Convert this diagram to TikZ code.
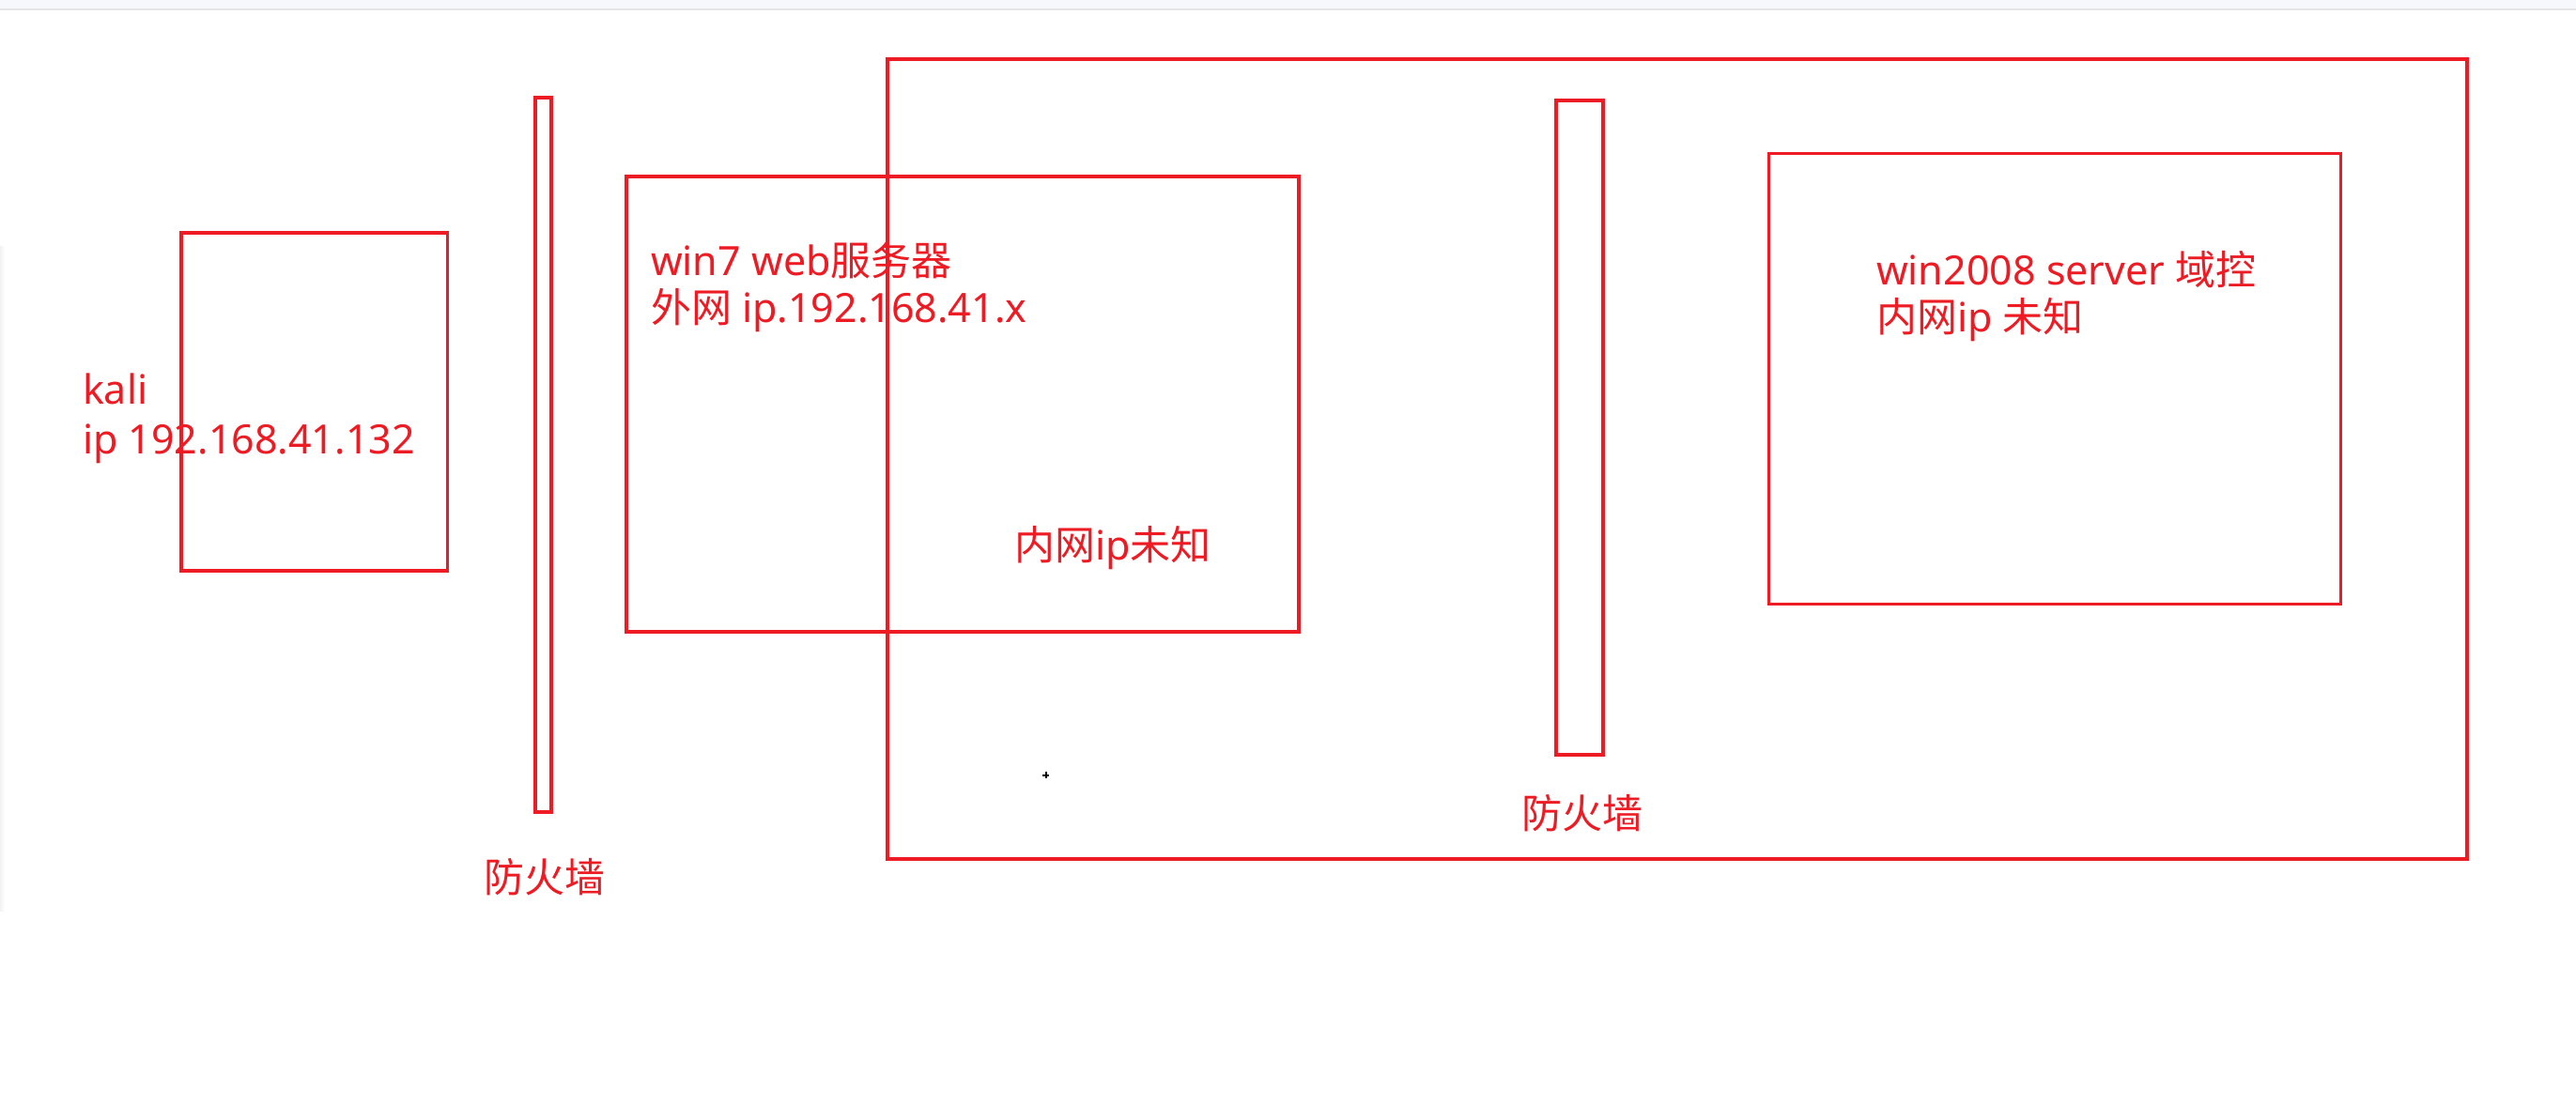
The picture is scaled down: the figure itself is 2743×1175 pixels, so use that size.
\documentclass[tikz,border=0pt]{standalone}
\usepackage{fontspec}
\setmainfont{Noto Sans}
\newfontfamily\cjk{Noto Sans CJK SC}
\definecolor{pen}{RGB}{237,28,36}
\tikzset{
  box/.style={draw=pen, line width=3.8pt, inner sep=0pt, outer sep=0pt, anchor=north west},
  lbl/.style={text=pen, font=\fontsize{43}{53}\selectfont, inner sep=0pt, outer sep=0pt},
}
\begin{document}
\begin{tikzpicture}[x=1pt,y=-1pt]
\path[fill=white] (0,0) rectangle (2743,1175);
\useasboundingbox (0,0) rectangle (2743,1175);
% top window strip
\path[fill={rgb,255:red,247;green,248;blue,252}] (0,0) rectangle (2743,9);
\path[fill={rgb,255:red,229;green,229;blue,229}] (0,9) rectangle (2743,11);
\path[left color=black!5, right color=white] (0,262) rectangle (5,970);
% boxes
\node[box, minimum width=283.5pt, minimum height=360pt] (kali) at (193,248) {};
\node[box, minimum width=17.6pt, minimum height=761pt] (fw1) at (569.7,103.7) {};
\node[box, minimum width=716.6pt, minimum height=485pt] (win7) at (666.7,187.7) {};
\node[box, minimum width=1682pt, minimum height=852pt] (lan) at (944.7,62.7) {};
\node[box, minimum width=50.6pt, minimum height=697pt] (fw2) at (1656.7,106.7) {};
\node[box, minimum width=609pt, minimum height=480pt] (dc) at (1883.5,163.5) {};
% texts
\node[lbl, anchor=base west] (t1) at (88,430) {kali};
\node[lbl, anchor=base west] (t2) at (88,483) {ip 192.168.41.132};
\node[lbl, anchor=base west] (t3) at (693,293) {win7 web{\cjk 服务器}};
\node[lbl, anchor=base west] (t4) at (693,343) {{\cjk 外网} ip.192.168.41.x};
\node[lbl, anchor=base west] (t5) at (1080,596) {{\cjk 内网}ip{\cjk 未知}};
\node[lbl, anchor=base west] (t6) at (1998,303) {win2008 server {\cjk 域控}};
\node[lbl, anchor=base west] (t7) at (1998,353) {{\cjk 内网}ip {\cjk 未知}};
\node[lbl] (f1) at (580,934) {\cjk 防火墙};
\node[lbl] (f2) at (1685,866) {\cjk 防火墙};
% small cursor mark
\coordinate (cur) at (1113.7,825.7);
\draw[line width=2pt] ([xshift=-3.5pt]cur) -- ([xshift=3.5pt]cur);
\draw[line width=2pt] ([yshift=-3.5pt]cur) -- ([yshift=3.5pt]cur);
\end{tikzpicture}
\end{document}
